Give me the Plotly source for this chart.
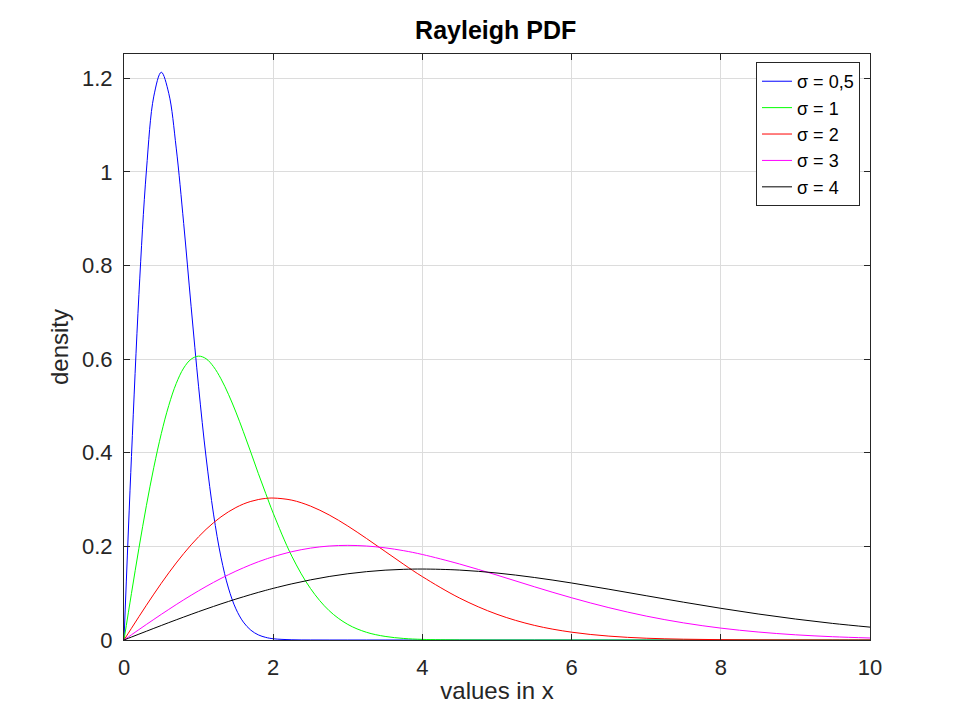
import plotly.graph_objects as go

# sample points
x = [0, 0.1, 0.2, 0.3, 0.4, 0.5, 0.6, 0.7, 0.8, 0.9, 1.0,
     1.1, 1.2, 1.3, 1.4, 1.5, 1.6, 1.7, 1.8, 1.9, 2.0,
     2.25, 2.5, 2.75, 3.0, 3.25, 3.5, 3.75, 4.0,
     4.5, 5.0, 5.5, 6.0, 6.5, 7.0, 7.5, 8.0, 8.5, 9.0, 9.5, 10.0]

s05 = [0, 0.392, 0.738, 1.002, 1.162, 1.213, 1.168, 1.051, 0.890, 0.712, 0.541,
       0.391, 0.269, 0.177, 0.111, 0.0666, 0.0383, 0.0210, 0.0110, 0.0056, 0.0027,
       0.0005, 0.00004, 0, 0, 0, 0, 0, 0,
       0, 0, 0, 0, 0, 0, 0, 0, 0, 0, 0, 0]

s1 = [0, 0.0995, 0.196, 0.287, 0.369, 0.441, 0.501, 0.548, 0.581, 0.600, 0.6065,
      0.601, 0.584, 0.558, 0.525, 0.487, 0.445, 0.401, 0.356, 0.313, 0.271,
      0.179, 0.110, 0.0627, 0.0333, 0.0165, 0.0077, 0.0033, 0.0013,
      0.0002, 0, 0, 0, 0, 0, 0, 0, 0, 0, 0, 0]

s2 = [0, 0.0250, 0.0498, 0.0742, 0.0980, 0.1212, 0.1434, 0.1646, 0.1846, 0.2033, 0.2206,
      0.2364, 0.2506, 0.2631, 0.2739, 0.2830, 0.2905, 0.2961, 0.3001, 0.3025, 0.3033,
      0.2988, 0.2861, 0.2672, 0.2435, 0.2170, 0.1893, 0.1616, 0.1353,
      0.0895, 0.0549, 0.0313, 0.0167, 0.0083, 0.0038, 0.0017, 0.0007, 0.0003, 0.0001, 0, 0]

s3 = [0, 0.0111, 0.0222, 0.0332, 0.0440, 0.0548, 0.0653, 0.0757, 0.0858, 0.0956, 0.1051,
      0.1143, 0.1231, 0.1315, 0.1395, 0.1471, 0.1542, 0.1609, 0.1671, 0.1727, 0.1779,
      0.1887, 0.1963, 0.2008, 0.2022, 0.2008, 0.1969, 0.1908, 0.1827,
      0.1623, 0.1386, 0.1138, 0.0902, 0.0691, 0.0511, 0.0366, 0.0254, 0.0171, 0.0111, 0.0070, 0.0043]

s4 = [0, 0.0063, 0.0125, 0.0187, 0.0249, 0.0310, 0.0371, 0.0431, 0.0490, 0.0548, 0.0606,
      0.0662, 0.0717, 0.0771, 0.0823, 0.0874, 0.0923, 0.0971, 0.1017, 0.1061, 0.1103,
      0.1200, 0.1285, 0.1357, 0.1415, 0.1460, 0.1492, 0.1510, 0.1516,
      0.1494, 0.1431, 0.1336, 0.1218, 0.1085, 0.0946, 0.0808, 0.0677, 0.0556, 0.0448, 0.0354, 0.0275]

names = ["σ = 0,5", "σ = 1", "σ = 2", "σ = 3", "σ = 4"]
colors = ["#0000ff", "#00ff00", "#ff0000", "#ff00ff", "#000000"]
series = [s05, s1, s2, s3, s4]

fig = go.Figure()
for name, ys, c in zip(names, series, colors):
    fig.add_trace(go.Scatter(x=x, y=ys, name=name, mode="lines",
                             line=dict(color=c, width=1, shape="spline", smoothing=1.0)))

font = "Liberation Sans, Arial, sans-serif"
axis_common = dict(showline=True, linecolor="#262626", linewidth=1, mirror="ticks",
                   ticks="inside", ticklen=6, tickcolor="#262626",
                   showgrid=True, gridcolor="#dcdcdc", gridwidth=1, zeroline=False,
                   tickfont=dict(size=22, color="#262626"))

fig.update_layout(
    width=960, height=720,
    paper_bgcolor="white", plot_bgcolor="white",
    font=dict(family=font, color="#262626"),
    margin=dict(l=116, r=98, t=46, b=88),
    title=dict(text="<b>Rayleigh PDF</b>", x=0.508, xanchor="center", y=0.969,
               yanchor="middle", font=dict(size=25, color="black")),
    xaxis=dict(range=[0, 10], dtick=2, ticklabelstandoff=8,
               title=dict(text="values in x", font=dict(size=24), standoff=2),
               **axis_common),
    yaxis=dict(range=[0, 1.252], dtick=0.2, ticklabelstandoff=6,
               title=dict(text="density", font=dict(size=24), standoff=6),
               **axis_common),
    legend=dict(x=0.9866, y=0.9863, xanchor="right", yanchor="top",
                bgcolor="white", bordercolor="#262626", borderwidth=1,
                font=dict(size=18, color="black"), tracegroupgap=0,
                itemwidth=30),
    showlegend=True,
)

fig.write_html("out.html")
